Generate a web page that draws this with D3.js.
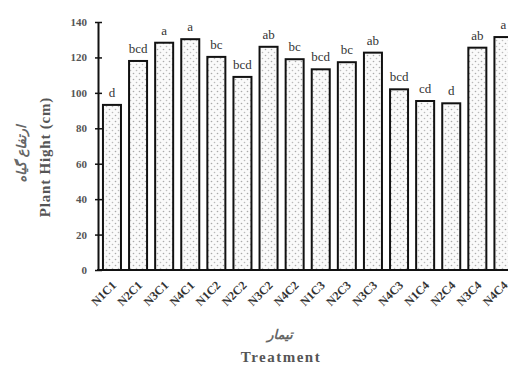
<!DOCTYPE html>
<html><head><meta charset="utf-8">
<script src="https://cdn.jsdelivr.net/npm/d3@7"></script>
<style>body{margin:0;background:#fff}svg{display:block}</style>
</head><body>
<script>
const categories = ["N1C1","N2C1","N3C1","N4C1","N1C2","N2C2","N3C2","N4C2","N1C3","N2C3","N3C3","N4C3","N1C4","N2C4","N3C4","N4C4"];
const values = [93.2,118,128.3,130.3,120.3,109,126,119,113.3,117.3,122.7,102,95.4,94.1,125.5,131.5];
const letters = ["d","bcd","a","a","bc","bcd","ab","bc","bcd","bc","ab","bcd","cd","d","ab","a"];
const yTicks = [0,20,40,60,80,100,120,140];

const W=508,H=365;
const svg=d3.select("body").append("svg").attr("width",W).attr("height",H);
const defs=svg.append("defs");
const pat=defs.append("pattern").attr("id","dots").attr("patternUnits","userSpaceOnUse").attr("width",6).attr("height",6);
pat.append("rect").attr("width",6).attr("height",6).attr("fill","#fafafa");
pat.append("circle").attr("cx",1.5).attr("cy",1.5).attr("r",0.8).attr("fill","#aaa");
pat.append("circle").attr("cx",4.5).attr("cy",4.5).attr("r",0.8).attr("fill","#bbb");

const x=d3.scaleBand().domain(categories).range([98,517.4]).paddingInner(0.31).paddingOuter(0.19);
const y=d3.scaleLinear().domain([0,140]).range([270,22]);
const font="'Liberation Serif','Times New Roman',serif";

svg.selectAll("rect.bar").data(values).enter().append("rect").attr("class","bar")
 .attr("x",(d,i)=>x(categories[i])).attr("y",d=>y(d))
 .attr("width",x.bandwidth()).attr("height",d=>y(0)-y(d))
 .attr("fill","url(#dots)").attr("stroke","#111").attr("stroke-width",2);

svg.selectAll("text.let").data(letters).enter().append("text").attr("class","let")
 .attr("x",(d,i)=>x(categories[i])+x.bandwidth()/2).attr("y",(d,i)=>y(values[i])-8)
 .attr("text-anchor","middle").attr("font-family",font).attr("font-size",13).attr("fill","#333").text(d=>d);

const ya=svg.append("g").attr("transform","translate(98,0)").call(d3.axisLeft(y).tickValues(yTicks).tickSizeInner(-4).tickSizeOuter(0).tickPadding(11));
ya.select(".domain").attr("stroke","#111").attr("stroke-width",2);
ya.selectAll(".tick line").attr("stroke","#111").attr("stroke-width",1.5).attr("x1",-3);
ya.selectAll("text").attr("font-family",font).attr("font-weight","bold").attr("font-size",11).attr("fill","#555");

svg.append("line").attr("x1",97).attr("x2",W).attr("y1",270).attr("y2",270).attr("stroke","#111").attr("stroke-width",2);

svg.selectAll("text.xl").data(categories).enter().append("text").attr("class","xl")
 .attr("transform",d=>`translate(${x(d)+x.bandwidth()/2+2},${283}) rotate(-45)`)
 .attr("text-anchor","end").attr("dy","0.35em").attr("font-family",font).attr("font-weight","bold")
 .attr("font-size",12).attr("fill","#333").text(d=>d);

svg.append("text").attr("transform","translate(50,157) rotate(-90)").attr("text-anchor","middle").attr("letter-spacing",0.8)
 .attr("font-family",font).attr("font-weight","bold").attr("font-size",15).attr("fill","#555").text("Plant Hight (cm)");
svg.append("text").attr("transform","translate(26,154) rotate(-90)").attr("text-anchor","middle")
 .attr("font-family","'DejaVu Sans',sans-serif").attr("font-style","italic").attr("font-weight","bold").attr("font-size",13).attr("fill","#666").text("ارتفاع گیاه");

svg.append("text").attr("x",280).attr("y",339).attr("text-anchor","middle")
 .attr("font-family","'DejaVu Sans',sans-serif").attr("font-style","italic").attr("font-weight","bold").attr("font-size",13).attr("fill","#666").text("تیمار");
svg.append("text").attr("x",281).attr("y",362).attr("text-anchor","middle").attr("letter-spacing",1.5)
 .attr("font-family",font).attr("font-weight","bold").attr("font-size",15).attr("fill","#555").text("Treatment");
</script>
</body></html>
